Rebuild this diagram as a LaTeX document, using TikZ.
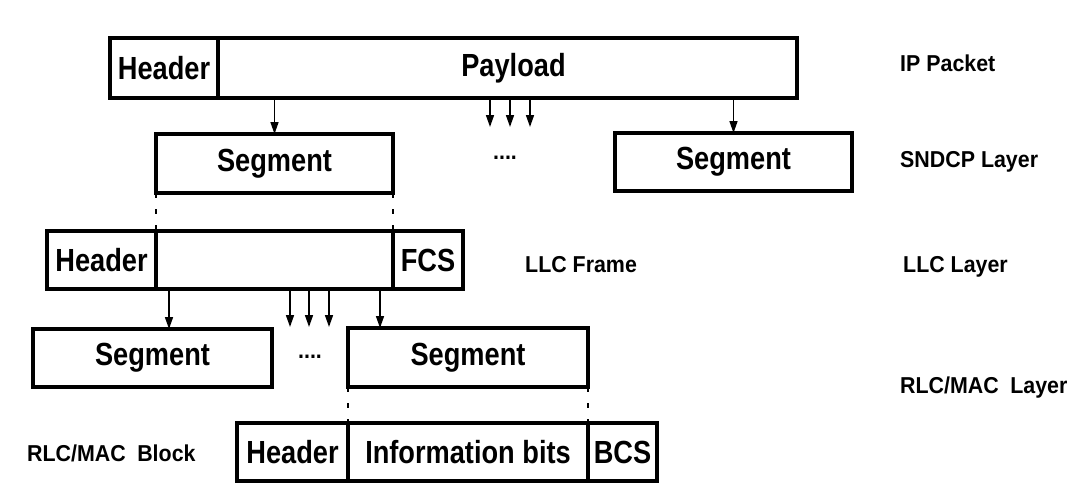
\documentclass[tikz,border=0pt]{standalone}
\usepackage{fontspec}
\usetikzlibrary{arrows.meta}
\newfontfamily\boxfont[FakeStretch=0.85]{Liberation Sans Bold}
\newfontfamily\labfont[FakeStretch=0.93]{Liberation Sans Bold}
\tikzset{
  cell/.style={draw, line width=3.2pt, rectangle, inner sep=0pt, outer sep=0pt,
    font=\boxfont\fontsize{32}{38}\selectfont},
  lab/.style={anchor=west, inner sep=0pt, font=\labfont\fontsize{23}{28}\selectfont},
  dots/.style={inner sep=0pt, font=\labfont\fontsize{23}{28}\selectfont},
  arr/.style={line width=1.6pt, -{Triangle[length=12pt,width=8pt]}},
  split/.style={line width=2.8pt, dash pattern=on 5pt off 11pt}
}
\begin{document}
\begin{tikzpicture}[x=1pt,y=-1pt]
\useasboundingbox[fill=white] (0,0) rectangle (1083,488);

% IP packet
\node[cell, minimum width=108pt, minimum height=60pt] (iphdr) at (164,68) {Header};
\node[cell, minimum width=579pt, minimum height=60pt] (ippay) at (507.5,68) {\hspace*{12pt}Payload};
\node[lab] (iplab) at (900,63) {IP Packet};

% SNDCP layer
\node[cell, minimum width=237pt, minimum height=59pt] (snd1) at (274.5,163.5) {Segment};
\node[cell, minimum width=237pt, minimum height=58pt] (snd2) at (733.5,162) {Segment};
\node[dots] (snddots) at (505,158) {....};
\node[lab] (sndlab) at (900,162) {SNDCP Layer};

\coordinate (t1) at (490,127);
\coordinate (t2) at (510,127);
\coordinate (t3) at (530,127);
\draw[arr] (snd1.north |- ippay.south) -- (snd1.north);
\draw[arr] (snd2.north |- ippay.south) -- (snd2.north);
\draw[arr] (t1 |- ippay.south) -- (t1);
\draw[arr] (t2 |- ippay.south) -- (t2);
\draw[arr] (t3 |- ippay.south) -- (t3);

% LLC layer
\node[cell, minimum width=109pt, minimum height=58pt] (llchdr) at (101.5,260) {Header};
\node[cell, minimum width=237pt, minimum height=58pt] (llcmid) at (274.5,260) {};
\node[cell, minimum width=70pt, minimum height=58pt] (llcfcs) at (428,260) {FCS};
\node[lab] (llcframe) at (525,265) {LLC Frame};
\node[lab] (llclab) at (903,267) {LLC Layer};

\draw[split] (snd1.south west) -- (llcmid.north west);
\draw[split] (snd1.south east) -- (llcmid.north east);

% RLC/MAC layer
\node[cell, minimum width=239pt, minimum height=58pt] (rlc1) at (152.5,358) {Segment};
\node[cell, minimum width=240pt, minimum height=59pt] (rlc2) at (468,357.5) {Segment};
\node[dots] (rlcdots) at (310,357) {....};
\node[lab] (rlclab) at (900,388) {RLC/MAC\hspace{0.5em}Layer};

\coordinate (a1) at (169,300);
\coordinate (a2) at (380,300);
\coordinate (u1) at (290,327);
\coordinate (u2) at (309,327);
\coordinate (u3) at (329,327);
\draw[arr] (a1 |- llcmid.south) -- (a1 |- rlc1.north);
\draw[arr] (a2 |- llcmid.south) -- (a2 |- rlc2.north);
\draw[arr] (u1 |- llcmid.south) -- (u1);
\draw[arr] (u2 |- llcmid.south) -- (u2);
\draw[arr] (u3 |- llcmid.south) -- (u3);

% RLC/MAC block
\node[cell, minimum width=111pt, minimum height=58pt] (blkhdr) at (292.5,452) {Header};
\node[cell, minimum width=240pt, minimum height=58pt] (blkinfo) at (468,452) {Information bits};
\node[cell, minimum width=69pt, minimum height=58pt] (blkbcs) at (622.5,452) {BCS};
\node[lab] (blklab) at (27,453) {RLC/MAC\hspace{0.5em}Block};

\draw[split] (rlc2.south west) -- (blkinfo.north west);
\draw[split] (rlc2.south east) -- (blkinfo.north east);
\end{tikzpicture}
\end{document}
